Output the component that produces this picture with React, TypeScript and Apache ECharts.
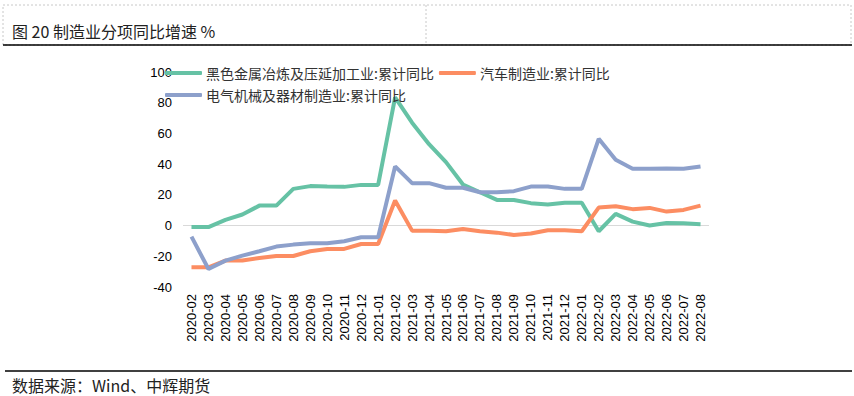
import React, { useEffect, useRef } from "react";
import * as echarts from "echarts";

const categories = [
  "2020-02", "2020-03", "2020-04", "2020-05", "2020-06", "2020-07", "2020-08", "2020-09", "2020-10", "2020-11", "2020-12",
  "2021-01", "2021-02", "2021-03", "2021-04", "2021-05", "2021-06", "2021-07", "2021-08", "2021-09", "2021-10", "2021-11", "2021-12",
  "2022-01", "2022-02", "2022-03", "2022-04", "2022-05", "2022-06", "2022-07", "2022-08",
];

const seriesNames = [
  "黑色金属冶炼及压延加工业:累计同比",
  "汽车制造业:累计同比",
  "电气机械及器材制造业:累计同比",
];

const steelValues = [
  -1, -1, 3.7, 7.2, 13, 13, 23.9, 25.7, 25.4, 25.2, 26.5,
  26.5, 83.5, 67, 53, 41.3, 26.7, 21.7, 16.7, 16.7, 14.6, 13.7, 14.8,
  14.8, -3.7, 7.6, 2.6, 0, 1.7, 1.5, 0.9,
];

const autoValues = [
  -27.2, -27.2, -22.8, -22.8, -21.1, -19.8, -19.8, -16.7, -15.2, -15.2, -12,
  -12, 16.3, -3.3, -3.3, -3.7, -2.2, -3.7, -4.6, -6.1, -5.2, -3, -3,
  -3.7, 11.7, 12.6, 10.7, 11.5, 9.1, 10.2, 13,
];

const electricValues = [
  -7.2, -28.3, -22.8, -19.6, -16.7, -13.7, -12.4, -11.5, -11.5, -10.2, -7.6,
  -7.6, 38.5, 27.6, 27.6, 24.6, 24.6, 21.7, 21.7, 22.4, 25.4, 25.4, 23.9,
  23.9, 56.5, 42.8, 37, 37, 37.2, 37, 38.5,
];

const colors = ["#66c2a5", "#fc8d62", "#8da0cb"];

const titleText = "图 20 制造业分项同比增速 %";
const sourceText = "数据来源：Wind、中辉期货";

export default function App() {
  const ref = useRef<HTMLDivElement>(null);

  useEffect(() => {
    if (!ref.current) return;
    const chart = echarts.init(ref.current, null, { renderer: "svg" });
    const cjk = '"Noto Sans CJK SC", sans-serif';
    const latin = '"Liberation Sans", Arial, sans-serif';

    const mkSeries = (name: string, data: number[], color: string, withZero = false) => ({
      name,
      type: "line",
      data,
      symbol: "none",
      smooth: false,
      lineStyle: { width: 4, color },
      itemStyle: { color },
      z: 3,
      ...(withZero
        ? {
            markLine: {
              silent: true,
              symbol: "none",
              label: { show: false },
              lineStyle: { color: "#d9d9d9", width: 1, type: "solid" },
              data: [{ yAxis: 0 }],
              z: 1,
            },
          }
        : {}),
    });

    const legendCommon = {
      left: 165,
      itemGap: 5,
      itemWidth: 37,
      itemHeight: 4,
      icon: "roundRect",
      textStyle: { fontFamily: cjk, fontSize: 14, color: "#333333", padding: [0, 0, 0, -1] },
      padding: 0,
    };

    chart.setOption({
      animation: false,
      backgroundColor: "#ffffff",
      textStyle: { fontFamily: latin },
      grid: { left: 183, right: 145, top: 72, bottom: 109, containLabel: false },
      legend: [
        { ...legendCommon, data: [seriesNames[0], seriesNames[1]], top: 66 },
        { ...legendCommon, data: [seriesNames[2]], top: 88 },
      ],
      xAxis: {
        type: "category",
        data: categories,
        boundaryGap: true,
        axisLine: { show: false },
        axisTick: { show: false },
        axisLabel: {
          rotate: 90,
          interval: 0,
          fontSize: 13,
          color: "#000000",
          fontFamily: latin,
          margin: 7,
        },
        splitLine: { show: false },
      },
      yAxis: {
        type: "value",
        min: -40,
        max: 100,
        interval: 20,
        axisLine: { show: false },
        axisTick: { show: false },
        splitLine: { show: false },
        axisLabel: { fontSize: 13, color: "#000000", fontFamily: latin, margin: 11 },
      },
      series: [
        mkSeries(seriesNames[0], steelValues, colors[0], true),
        mkSeries(seriesNames[1], autoValues, colors[1]),
        mkSeries(seriesNames[2], electricValues, colors[2]),
      ],
      graphic: [
        {
          type: "rect",
          shape: { x: 3, y: 5, width: 848, height: 40 },
          style: { fill: "none", stroke: "#c8c8c8", lineWidth: 1, lineDash: [2, 2] },
          silent: true,
        },
        {
          type: "line",
          shape: { x1: 426, y1: 5, x2: 426, y2: 45 },
          style: { stroke: "#c8c8c8", lineWidth: 1, lineDash: [2, 2] },
          silent: true,
        },
        {
          type: "line",
          shape: { x1: 3, y1: 45, x2: 852, y2: 45 },
          style: { stroke: "#000000", lineWidth: 1.5 },
          silent: true,
        },
        {
          type: "text",
          x: 12,
          y: 31,
          style: {
            text: titleText,
            fontFamily: cjk,
            fontSize: 16,
            fill: "#222222",
            verticalAlign: "middle",
          },
          silent: true,
        },
        {
          type: "line",
          shape: { x1: 5, y1: 371, x2: 852, y2: 371 },
          style: { stroke: "#000000", lineWidth: 1.5 },
          silent: true,
        },
        {
          type: "text",
          x: 12,
          y: 385,
          style: {
            text: sourceText,
            fontFamily: cjk,
            fontSize: 16,
            fill: "#222222",
            verticalAlign: "middle",
          },
          silent: true,
        },
      ],
    });

    return () => chart.dispose();
  }, []);

  return (
    <div
      ref={ref}
      style={{ position: "fixed", left: 0, top: 0, width: 854, height: 396, background: "#fff" }}
    />
  );
}
